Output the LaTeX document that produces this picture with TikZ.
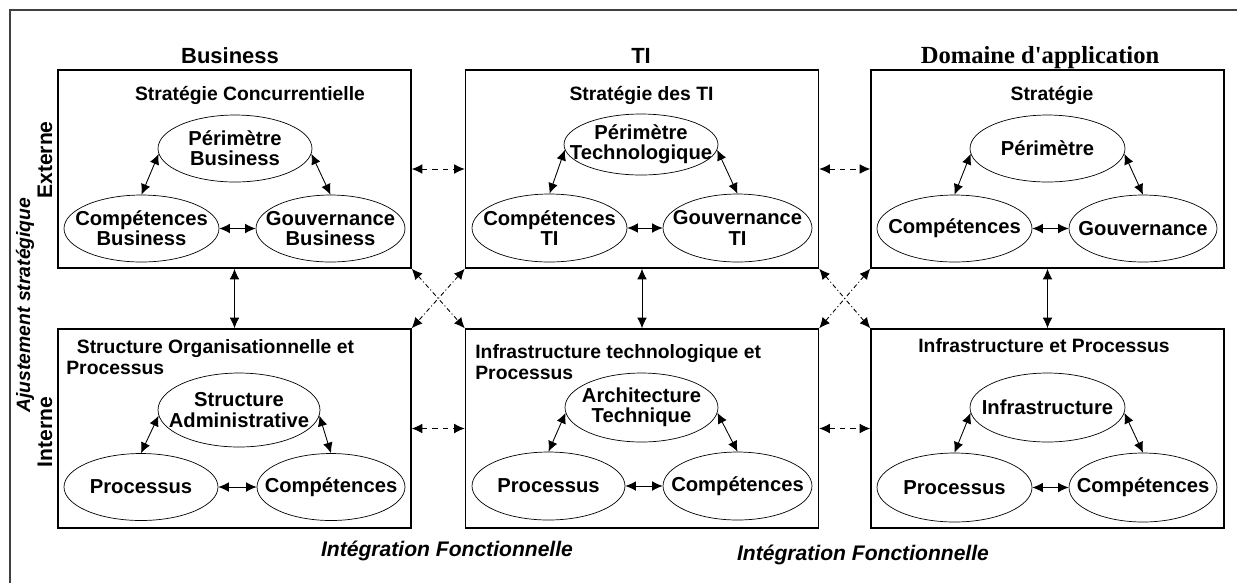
\documentclass[tikz,border=0pt]{standalone}
\usepackage{fontspec}
\setmainfont{Liberation Sans}
\newfontfamily\headserif{Liberation Serif}
\usetikzlibrary{shapes.geometric,arrows.meta}

\begin{document}
\begin{tikzpicture}[x=0.02cm,y=-0.02cm,
  bloc/.style={draw, line width=0.9pt, minimum width=7.06cm, minimum height=3.96cm, inner sep=0pt},
  ov/.style={ellipse, draw, line width=0.4pt, inner xsep=-10pt, inner ysep=-2pt,
    minimum width=3.08cm, minimum height=1.34cm, align=center,
    font=\fontsize{11.5}{11.5}\selectfont\bfseries},
  titre/.style={anchor=base, inner sep=0pt, font=\fontsize{11}{12}\selectfont\bfseries},
  titreg/.style={anchor=north west, inner sep=0pt, align=left, font=\fontsize{11}{12}\selectfont\bfseries},
  entete/.style={anchor=base, inner sep=0pt, font=\fontsize{12.5}{14}\selectfont\bfseries},
  lien/.style={{Latex[length=6pt,width=5.5pt]}-{Latex[length=6pt,width=5.5pt]}, line width=0.5pt},
  lientir/.style={lien, dash pattern=on 3pt off 3pt},
  liencroix/.style={lien, dash pattern=on 2.5pt off 1.5pt on 0.6pt off 1.5pt}]
  \useasboundingbox (0,0) rectangle (1237,583);
  \draw[line width=0.8pt, black!75] (1237,10) -- (10,10) -- (10,583);

  % colonnes
  \node[entete] (hb) at (230,63) {Business};
  \node[entete] (ht) at (641,63) {TI};
  \node[entete, font=\fontsize{14}{16}\selectfont\headserif\bfseries] (hd) at (1040,63) {Domaine d'application};

  \node[bloc] (bsup) at (234.5,169) {};
  \node[bloc] (tsup) at (642,169) {};
  \node[bloc] (dsup) at (1047.5,169) {};
  \node[bloc, minimum height=3.98cm] (binf) at (234.5,428.5) {};
  \node[bloc, minimum height=3.98cm] (tinf) at (642,428.5) {};
  \node[bloc, minimum height=3.98cm] (dinf) at (1047.5,428.5) {};

  \node[titre] (t1) at (250,100) {Stratégie Concurrentielle};
  \node[titre] (t2) at (641.5,100) {Stratégie des TI};
  \node[titre] (t3) at (1052,100) {Stratégie};
  \node[titreg] (t4) at (66,339) {\hspace*{6pt}Structure Organisationnelle et\\Processus};
  \node[titreg] (t5) at (475,344) {Infrastructure technologique et\\Processus};
  \node[titre] (t6) at (1044,352) {Infrastructure et Processus};

  % Business
  \node[ov] (pb) at (235,148.5) {Périmètre\\Business};
  \node[ov, minimum width=3.1cm] (cb) at (141.5,228.5) {Compétences\\Business};
  \node[ov, minimum width=2.98cm] (gb) at (330.5,228.5) {Gouvernance\\Business};
  \node[ov, minimum width=3.24cm, minimum height=1.48cm] (sa) at (239,410) {Structure\\Administrative};
  \node[ov] (pa) at (141,487) {Processus};
  \node[ov, minimum width=2.96cm] (ca) at (331,487) {Compétences};

  % TI
  \node[ov, minimum height=1.22cm] (pt) at (641,144.5) {Périmètre\\Technologique};
  \node[ov, minimum width=3.1cm, minimum height=1.36cm] (ct) at (549.5,228) {Compétences\\TI};
  \node[ov, minimum width=2.98cm, minimum height=1.36cm] (gt) at (737.5,228) {Gouvernance\\TI};
  \node[ov, minimum width=3.06cm, minimum height=1.38cm] (at) at (641.5,407.5) {Architecture\\Technique};
  \node[ov, minimum width=3.06cm, minimum height=1.36cm] (ppt) at (548.5,486) {Processus};
  \node[ov, minimum width=2.98cm, minimum height=1.36cm] (cpt) at (737.5,486) {Compétences};

  % Domaine
  \node[ov, minimum width=3.1cm] (pd) at (1047.5,148.5) {Périmètre};
  \node[ov, minimum width=3.1cm] (cd) at (954.5,228.5) {Compétences};
  \node[ov, minimum width=2.96cm] (gd) at (1143,228.5) {Gouvernance};
  \node[ov, minimum width=3.1cm, minimum height=1.38cm] (id) at (1047.5,407.5) {Infrastructure};
  \node[ov, minimum width=3.1cm, minimum height=1.38cm] (pdd) at (954.5,487.5) {Processus};
  \node[ov, minimum width=2.96cm, minimum height=1.38cm] (cdd) at (1143,487.5) {Compétences};

  \draw[lien] (pb.184) -- (cb.north);
  \draw[lien] (pb.356) -- (gb.north);
  \draw[lien] (cb.east) -- (gb.west);
  \draw[lien] (sa.184) -- (pa.north);
  \draw[lien] (sa.356) -- (ca.north);
  \draw[lien] (pa.east) -- (ca.west);
  \draw[lien] (pt.184) -- (ct.north);
  \draw[lien] (pt.356) -- (gt.north);
  \draw[lien] (ct.east) -- (gt.west);
  \draw[lien] (at.184) -- (ppt.north);
  \draw[lien] (at.356) -- (cpt.north);
  \draw[lien] (ppt.east) -- (cpt.west);
  \draw[lien] (pd.184) -- (cd.north);
  \draw[lien] (pd.356) -- (gd.north);
  \draw[lien] (cd.east) -- (gd.west);
  \draw[lien] (id.184) -- (pdd.north);
  \draw[lien] (id.356) -- (cdd.north);
  \draw[lien] (pdd.east) -- (cdd.west);

  % entre les blocs
  \draw[lien] (bsup.south) -- (binf.north);
  \draw[lien] (tsup.south) -- (tinf.north);
  \draw[lien] (dsup.south) -- (dinf.north);
  \draw[lientir] (bsup.east) -- (tsup.west);
  \draw[lientir] (tsup.east) -- (dsup.west);
  \draw[lientir] (binf.east) -- (tinf.west);
  \draw[lientir] (tinf.east) -- (dinf.west);
  \draw[liencroix] (bsup.south east) -- (tinf.north west);
  \draw[liencroix] (tsup.south west) -- (binf.north east);
  \draw[liencroix] (tsup.south east) -- (dinf.north west);
  \draw[liencroix] (dsup.south west) -- (tinf.north east);

  \node[rotate=90, font=\fontsize{11}{12}\selectfont\bfseries\itshape] (aj) at (25,305) {Ajustement stratégique};
  \node[rotate=90, font=\fontsize{12}{12}\selectfont\bfseries] (ext) at (45,160) {Externe};
  \node[rotate=90, font=\fontsize{12}{12}\selectfont\bfseries] (int) at (45,432) {Interne};
  \node[font=\fontsize{12}{14}\selectfont\bfseries\itshape] (if1) at (447,551) {Intégration Fonctionnelle};
  \node[font=\fontsize{12}{14}\selectfont\bfseries\itshape] (if2) at (863,555) {Intégration Fonctionnelle};
\end{tikzpicture}
\end{document}
